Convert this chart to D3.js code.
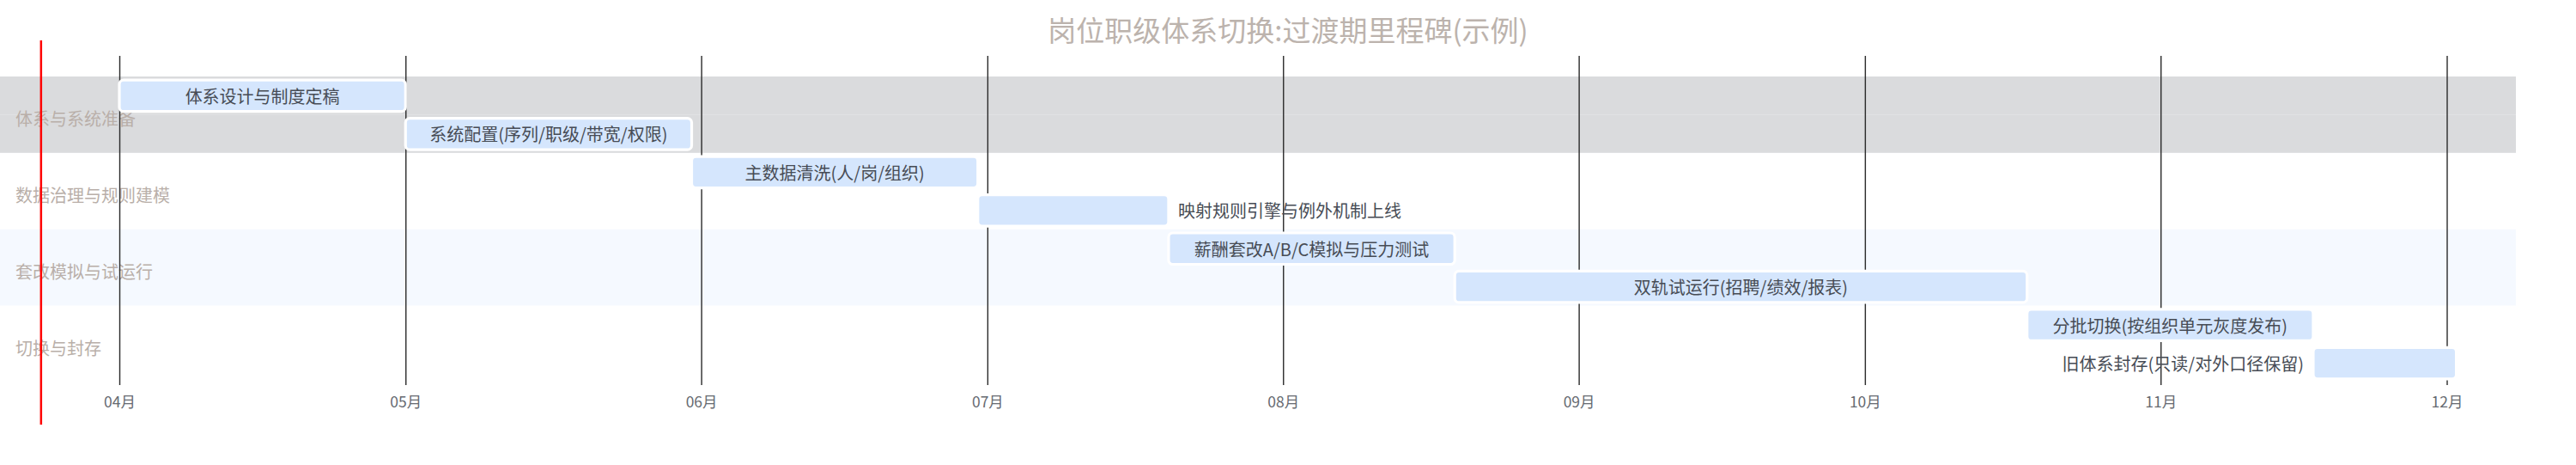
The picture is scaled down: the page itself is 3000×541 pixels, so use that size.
<!DOCTYPE html>
<html><head><meta charset="utf-8">
<script src="https://cdn.jsdelivr.net/npm/d3@7"></script>
<style>
body{margin:0;background:#fff;}
svg{display:block;font-family:"Noto Sans CJK SC","Noto Sans",sans-serif;}
</style>
</head><body>
<svg id="chart" width="3000" height="541"></svg>
<script>
// ---- data ----
const chartTitle = "岗位职级体系切换:过渡期里程碑(示例)";
const groups = ["体系与系统准备", "数据治理与规则建模", "套改模拟与试运行", "切换与封存"];
const taskNames = [
  "体系设计与制度定稿",
  "系统配置(序列/职级/带宽/权限)",
  "主数据清洗(人/岗/组织)",
  "映射规则引擎与例外机制上线",
  "薪酬套改A/B/C模拟与压力测试",
  "双轨试运行(招聘/绩效/报表)",
  "分批切换(按组织单元灰度发布)",
  "旧体系封存(只读/对外口径保留)"
];
const taskGroups = [0, 0, 1, 1, 2, 2, 3, 3];
const taskStarts = ["2025-04-01", "2025-05-01", "2025-05-31", "2025-06-30", "2025-07-20", "2025-08-19", "2025-10-18", "2025-11-17"];
const taskEnds   = ["2025-05-01", "2025-05-31", "2025-06-30", "2025-07-20", "2025-08-19", "2025-10-18", "2025-11-17", "2025-12-02"];
const tickDates  = ["2025-04-01", "2025-05-01", "2025-06-01", "2025-07-01", "2025-08-01", "2025-09-01", "2025-10-01", "2025-11-01", "2025-12-01"];
const tickLabels = ["04月", "05月", "06月", "07月", "08月", "09月", "10月", "11月", "12月"];
const currentTime = "2025-03-23T19:00";

// ---- layout ----
const W = 3000, H = 541;
const parseDay = d3.utcParse("%Y-%m-%d");
const parseTime = d3.utcParse("%Y-%m-%dT%H:%M");
const svg = d3.select("#chart");

const x = d3.scaleUtc()
  .domain([parseDay(tickDates[0]), parseDay(tickDates[tickDates.length - 1])])
  .range([139, 2849.5]);

const bandLeft = 0, bandRight = 2930;
const y = d3.scaleBand().domain(groups).range([89, 444.6]).padding(0);
const subH = y.bandwidth() / 2;

const bandFills = ["#dadbdd", "#ffffff", "#f5f9ff", "#ffffff"];
const labelColor = "#b9afa9";

// title
svg.append("text")
  .attr("x", W / 2).attr("y", 34)
  .attr("text-anchor", "middle").attr("dominant-baseline", "central")
  .attr("font-size", 33).attr("fill", "#bcb3ad")
  .text(chartTitle);

// group bands
const gBands = svg.append("g");
gBands.selectAll("rect").data(groups).join("rect")
  .attr("x", bandLeft).attr("width", bandRight - bandLeft)
  .attr("y", d => y(d)).attr("height", y.bandwidth())
  .attr("fill", (d, i) => bandFills[i]);
gBands.append("line")
  .attr("x1", bandLeft).attr("x2", bandRight)
  .attr("y1", y(groups[0]) + subH).attr("y2", y(groups[0]) + subH)
  .attr("stroke", "#e1e2e4").attr("stroke-width", 1);

// group labels
svg.append("g").selectAll("text").data(groups).join("text")
  .attr("x", 18).attr("y", d => y(d) + y.bandwidth() / 2 + 4)
  .attr("dominant-baseline", "central")
  .attr("font-size", 20).attr("fill", labelColor)
  .text(d => d);

// axis: grid lines + labels
const axis = d3.axisBottom(x)
  .tickValues(tickDates.map(parseDay))
  .tickFormat((d, i) => tickLabels[i])
  .tickSize(448 - 65)
  .tickPadding(10);
const gAxis = svg.append("g").attr("transform", "translate(0,65)").call(axis);
gAxis.select(".domain").remove();
gAxis.selectAll(".tick line").attr("stroke", "#2a2a2a").attr("stroke-width", 1.4);
gAxis.selectAll(".tick text")
  .attr("font-size", 17.5).attr("fill", "#666a71")
  .attr("font-family", '"Noto Sans CJK SC","Noto Sans",sans-serif')
  .attr("dy", "0.9em");

// tasks
const tasks = taskNames.map((name, i) => {
  const g = taskGroups[i];
  const sub = taskGroups.slice(0, i).filter(v => v === g).length;
  return {name, g, sub, start: parseDay(taskStarts[i]), end: parseDay(taskEnds[i])};
});

const barH = 36.5, barOff = 4.2;
const gTasks = svg.append("g");
const tg = gTasks.selectAll("g").data(tasks).join("g");
tg.append("rect")
  .attr("x", d => x(d.start)).attr("width", d => x(d.end) - x(d.start))
  .attr("y", d => y(groups[d.g]) + d.sub * subH + barOff)
  .attr("height", barH)
  .attr("rx", 5).attr("ry", 5)
  .attr("fill", "#d5e6fd")
  .attr("stroke", "#ffffff").attr("stroke-width", 3.2);

tg.append("text")
  .attr("font-size", 20).attr("fill", "#474c55")
  .attr("dominant-baseline", "central")
  .attr("y", d => y(groups[d.g]) + d.sub * subH + barOff + barH / 2)
  .text(d => d.name)
  .each(function(d) {
    const tw = this.getComputedTextLength();
    const x0 = x(d.start), x1 = x(d.end);
    const sel = d3.select(this);
    if (tw + 16 <= x1 - x0) {
      sel.attr("x", (x0 + x1) / 2).attr("text-anchor", "middle");
    } else if (x1 + 11 + tw <= bandRight) {
      sel.attr("x", x1 + 11).attr("text-anchor", "start");
    } else {
      sel.attr("x", x0 - 11).attr("text-anchor", "end");
    }
  });

// current time marker
const cx = x(parseTime(currentTime));
svg.append("line")
  .attr("x1", cx).attr("x2", cx).attr("y1", 47).attr("y2", 494)
  .attr("stroke", "#ff0000").attr("stroke-width", 2.5);
</script>
</body></html>
